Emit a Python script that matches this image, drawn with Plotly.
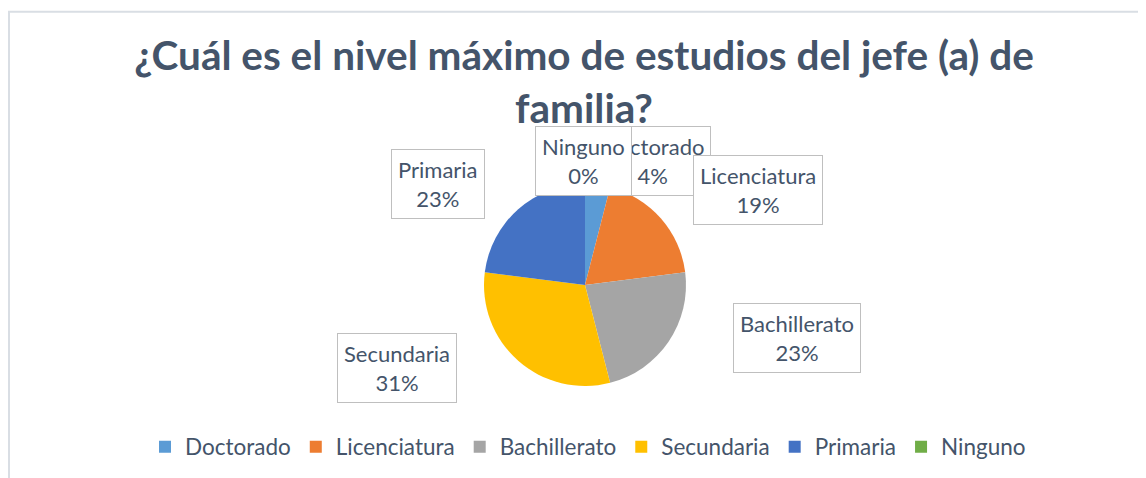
import plotly.graph_objects as go

categories = ["Doctorado", "Licenciatura", "Bachillerato", "Secundaria", "Primaria", "Ninguno"]
values = [4, 19, 23, 31, 23, 0]
colors = ["#5B9BD5", "#ED7D31", "#A5A5A5", "#FFC000", "#4472C4", "#70AD47"]
title_text = "¿Cuál es el nivel máximo de estudios del jefe (a) de<br>familia?"

# page has an 8px body margin; figure sized to fill the rest of the window
OFF = 8
W, H = 1146 - OFF, 478 - OFF
TXT = "#44546A"


def fx(px):
    return (px - OFF) / W


def fy(py):
    return 1 - (py - OFF) / H


fig = go.Figure()
fig.add_trace(go.Pie(
    labels=categories, values=values, sort=False, direction="clockwise", rotation=0,
    marker=dict(colors=colors, line=dict(color="white", width=0)),
    textinfo="none", hoverinfo="label+percent",
    domain=dict(x=[fx(484), fx(686)], y=[fy(386), fy(184)]),
    showlegend=True,
))

# label boxes (centres in page pixels), one per category
label_pos = {
    "Doctorado": (652, 161),
    "Licenciatura": (758, 190),
    "Bachillerato": (797, 338),
    "Secundaria": (397, 368),
    "Primaria": (438, 184),
    "Ninguno": (583, 161),
}
total = sum(values)
annotations = []
for cat, v in zip(categories, values):
    px, py = label_pos[cat]
    annotations.append(dict(
        x=fx(px), y=fy(py), xref="paper", yref="paper",
        xanchor="center", yanchor="middle",
        text=f"{cat}<br>{round(100 * v / total)}%", showarrow=False,
        font=dict(family="Lato, sans-serif", size=22, color=TXT),
        bgcolor="white", bordercolor="#BFBFBF", borderwidth=1, borderpad=6,
        align="center",
    ))
fig.update_layout(annotations=annotations)

fig.add_shape(type="rect", xref="paper", yref="paper",
              x0=1 / W, x1=1.01, y0=-0.02, y1=1 - 3.8 / H,
              line=dict(color="#D9DEE4", width=2), fillcolor="rgba(0,0,0,0)", layer="below")

fig.update_layout(
    width=W, height=H,
    margin=dict(l=0, r=0, t=0, b=0),
    paper_bgcolor="white", plot_bgcolor="white",
    title=dict(text=title_text, x=fx(584), xanchor="center", y=fy(70), yanchor="middle",
               font=dict(family="Lato, sans-serif", size=40.5, color=TXT, weight="bold")),
    legend=dict(orientation="h", x=fx(588), xanchor="center", y=fy(447), yanchor="middle",
                font=dict(family="Lato, sans-serif", size=22.5, color=TXT), traceorder="normal",
                itemwidth=30),
)

fig.write_html("out.html")
